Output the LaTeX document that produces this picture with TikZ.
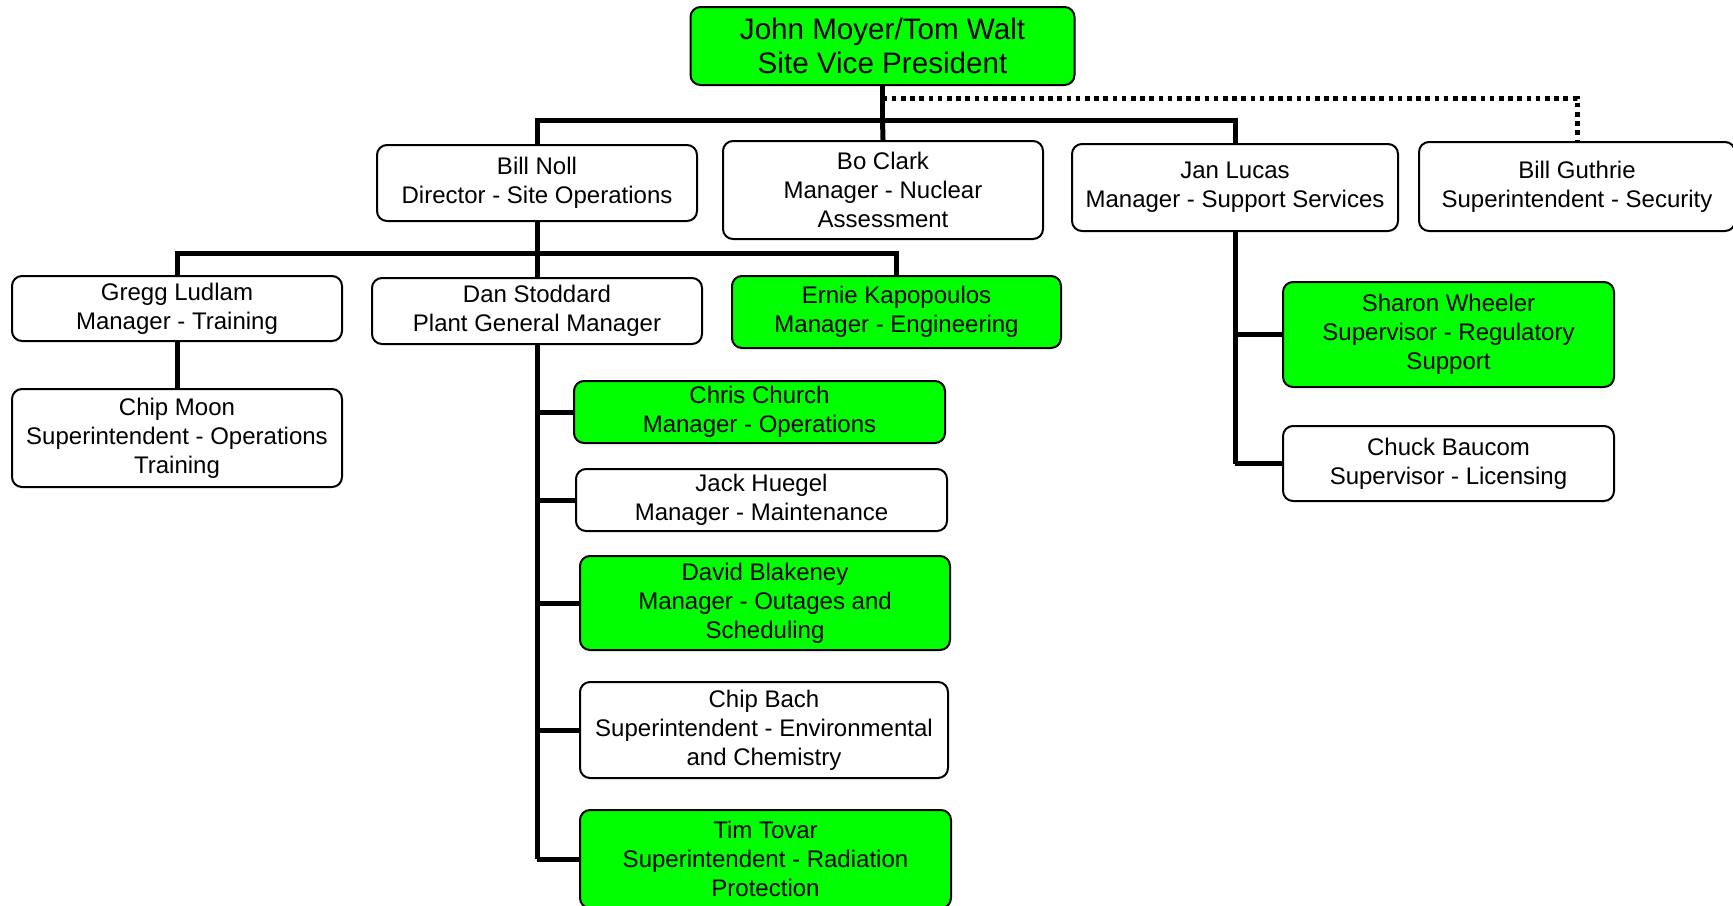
\documentclass[tikz,border=0pt]{standalone}
\usepackage{fontspec}
\setmainfont{Liberation Sans}
\usetikzlibrary{positioning, calc}

\definecolor{boxgreen}{RGB}{0,255,0}

\begin{document}
\begin{tikzpicture}[
			x=0.5pt, y=-0.5pt,
			box/.style={draw, rounded corners=5pt, align=center, inner sep=2pt, line width=1pt, fill=white, font=\fontsize{12}{14.4}\selectfont},
			hot/.style={box, fill=boxgreen},
			link/.style={line width=2.5pt},
			dotlink/.style={line width=2.5pt, dash pattern=on 2.3pt off 2.3pt}
		]
			\useasboundingbox (0,0) rectangle (1733,905);
			% top
			\node[hot, minimum width=192pt, minimum height=39pt, font=\fontsize{14.8}{17}\selectfont] (vp) at (882.5,46) {John Moyer/Tom Walt\\ Site Vice President};
			% second row
			\node[box, minimum width=160pt, minimum height=38pt] (noll) at (537,183) {Bill Noll\\ Director - Site Operations};
			\node[box, minimum width=160pt, minimum height=49pt] (clark) at (883,190) {Bo Clark\\ Manager - Nuclear\\ Assessment};
			\node[box, minimum width=163pt, minimum height=43.5pt] (lucas) at (1235,187.5) {Jan Lucas\\ Manager - Support Services};
			\node[box, minimum width=158pt, minimum height=44.5pt] (guthrie) at (1577,186.5) {Bill Guthrie\\ Superintendent - Security};
			% third row
			\node[box, minimum width=165pt, minimum height=32.5pt] (ludlam) at (177,308.5) {Gregg Ludlam\\ Manager - Training};
			\node[box, minimum width=165pt, minimum height=49pt] (moon) at (177,438) {Chip Moon\\ Superintendent - Operations\\ Training};
			\node[box, minimum width=165pt, minimum height=33pt] (stoddard) at (537,311) {Dan Stoddard\\ Plant General Manager};
			\node[hot, minimum width=164.5pt, minimum height=36pt] (ernie) at (896.5,312) {Ernie Kapopoulos\\ Manager - Engineering};
			% under plant general manager
			\node[hot, minimum width=185.5pt, minimum height=31pt] (church) at (759.5,412) {Chris Church\\ Manager - Operations};
			\node[box, minimum width=185.5pt, minimum height=31pt] (huegel) at (761.5,500) {Jack Huegel\\ Manager - Maintenance};
			\node[hot, minimum width=185pt, minimum height=47pt] (blakeney) at (765,603) {David Blakeney\\ Manager - Outages and\\ Scheduling};
			\node[box, minimum width=184pt, minimum height=48pt] (bach) at (764,730) {Chip Bach\\ Superintendent - Environmental\\ and Chemistry};
			\node[hot, minimum width=185.5pt, minimum height=49pt] (tovar) at (765.5,859) {Tim Tovar\\ Superintendent - Radiation\\ Protection};
			% under support services
			\node[hot, minimum width=165.5pt, minimum height=52.5pt] (wheeler) at (1448.5,334.5) {Sharon Wheeler\\ Supervisor - Regulatory\\ Support};
			\node[box, minimum width=165.5pt, minimum height=37.5pt] (baucom) at (1448.5,463.5) {Chuck Baucom\\ Supervisor - Licensing};

			% connectors
			\coordinate (bus1) at (vp.south |- 0,120);
			\coordinate (dot1) at (vp.south |- 0,98);
			\coordinate (bus2) at (noll.south |- 0,253);
			\coordinate (end2) at (stoddard.south |- tovar.west);
			\coordinate (end3) at (lucas.south |- baucom.west);
			\draw[dotlink] (dot1) -| (guthrie.north);
			\draw[link] (vp.south) -- (bus1);
			\draw[link] (noll.north) |- (bus1) -| (lucas.north);
			\draw[link] (bus1) -- (clark.north);
			\draw[link] (noll.south) -- (bus2);
			\draw[link] (ludlam.north) |- (bus2) -| (ernie.north);
			\draw[link] (bus2) -- (stoddard.north);
			\draw[link] (ludlam.south) -- (moon.north);
			\draw[link] (stoddard.south) -- (end2);
			\foreach \n in {church, huegel, blakeney, bach, tovar}
				\draw[link] (stoddard.south |- \n.west) -- (\n.west);
			\draw[link] (lucas.south) -- (end3);
			\foreach \n in {wheeler, baucom}
				\draw[link] (lucas.south |- \n.west) -- (\n.west);
		\end{tikzpicture}
\end{document}
